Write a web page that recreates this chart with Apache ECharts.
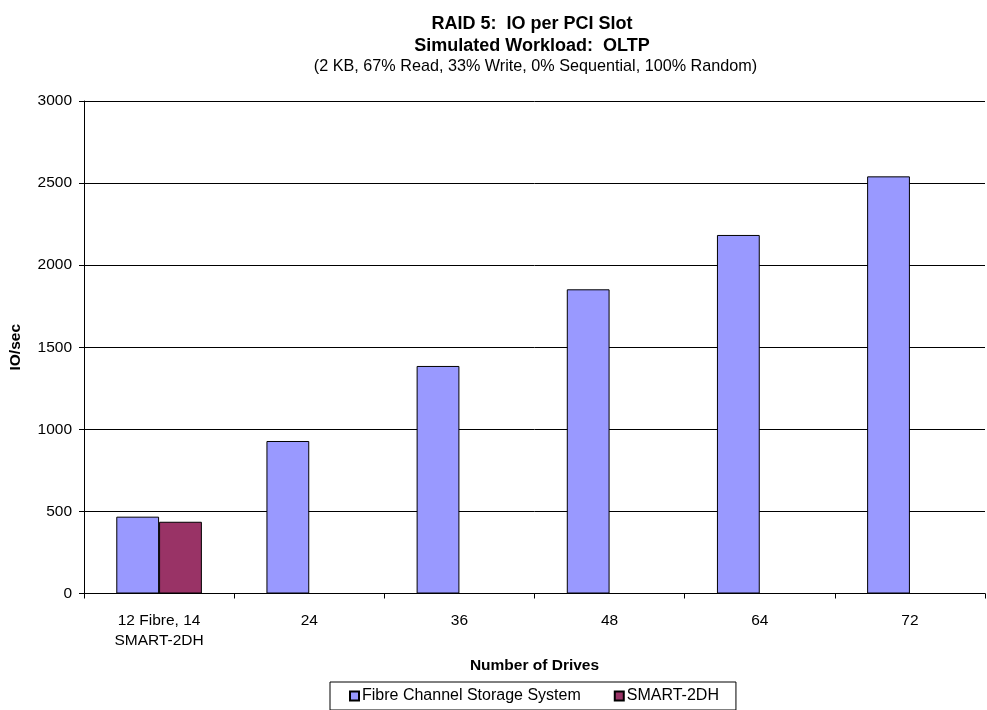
<!DOCTYPE html>
<html>
<head>
<meta charset="utf-8">
<script src="https://cdn.jsdelivr.net/npm/echarts@6/dist/echarts.min.js"></script>
<style>
  html, body { margin: 0; padding: 0; background: #fff; }
  #chart { width: 987px; height: 710px; }
</style>
</head>
<body>
<div id="chart"></div>
<script>
// Drive counts on the x axis
const categories = ['12 Fibre, 14\nSMART-2DH', '24', '36', '48', '64', '72'];
// IO/sec per PCI slot
const fibreChannel = [468, 929, 1386, 1853, 2184, 2541];
const smart2dh = [437, null, null, null, null, null];
const seriesNames = ['Fibre Channel Storage System', 'SMART-2DH'];
const yTicks = { min: 0, max: 3000, interval: 500 };

const FONT = '"Liberation Sans", Arial, sans-serif';
const chart = echarts.init(document.getElementById('chart'), null, { renderer: 'canvas' });

chart.setOption({
  animation: false,
  backgroundColor: '#ffffff',
  textStyle: { fontFamily: FONT, color: '#000' },
  title: [
    {
      text: 'RAID 5:  IO per PCI Slot',
      left: 527, top: 10, textAlign: 'center',
      textStyle: { fontFamily: FONT, fontSize: 18, fontWeight: 'bold', color: '#000' }
    },
    {
      text: 'Simulated Workload:  OLTP',
      left: 527, top: 32, textAlign: 'center',
      textStyle: { fontFamily: FONT, fontSize: 18, fontWeight: 'bold', color: '#000' }
    },
    {
      text: '(2 KB, 67% Read, 33% Write, 0% Sequential, 100% Random)',
      left: 530.5, top: 54, textAlign: 'center',
      textStyle: { fontFamily: FONT, fontSize: 16.2, fontWeight: 'normal', color: '#000' }
    }
  ],
  legend: {
    data: seriesNames,
    left: 330, top: 682,
    padding: [6, 17, 6, 19],
    borderColor: '#000', borderWidth: 1,
    itemWidth: 9, itemHeight: 9, itemGap: 33,
    icon: 'rect',
    textStyle: { fontFamily: FONT, fontSize: 16, color: '#000', padding: [0, 0, 0, -2] }
  },
  grid: { left: 84, right: 2, top: 101, bottom: 116.5, containLabel: false },
  xAxis: {
    type: 'category',
    data: categories,
    name: 'Number of Drives',
    nameLocation: 'middle',
    nameGap: 64,
    nameTextStyle: { fontFamily: FONT, fontSize: 15.5, fontWeight: 'bold', color: '#000' },
    axisLine: { lineStyle: { color: '#000', width: 1 } },
    axisTick: { show: true, length: 5, lineStyle: { color: '#000' } },
    axisLabel: { fontFamily: FONT, fontSize: 15.5, color: '#000', margin: 17, lineHeight: 20, interval: 0 },
    splitLine: { show: false }
  },
  yAxis: {
    type: 'value',
    min: yTicks.min, max: yTicks.max, interval: yTicks.interval,
    name: 'IO/sec',
    nameLocation: 'middle',
    nameGap: 60,
    nameRotate: 90,
    nameTextStyle: { fontFamily: FONT, fontSize: 15.5, fontWeight: 'bold', color: '#000' },
    axisLine: { show: true, lineStyle: { color: '#000', width: 1 } },
    axisTick: { show: true, length: 5, lineStyle: { color: '#000' } },
    axisLabel: {
      fontFamily: FONT, fontSize: 15.5, color: '#000', margin: 12,
      formatter: (v) => String(v)
    },
    splitLine: { show: true, lineStyle: { color: '#000', width: 1 } }
  },
  series: [
    {
      name: seriesNames[0],
      type: 'bar',
      data: fibreChannel,
      barGap: '0%',
      barCategoryGap: '43%',
      itemStyle: { color: '#9999FF', borderColor: '#000', borderWidth: 1 }
    },
    {
      name: seriesNames[1],
      type: 'bar',
      data: smart2dh,
      barGap: '0%',
      barCategoryGap: '43%',
      itemStyle: { color: '#993366', borderColor: '#000', borderWidth: 1 }
    }
  ]
});
</script>
</body>
</html>
